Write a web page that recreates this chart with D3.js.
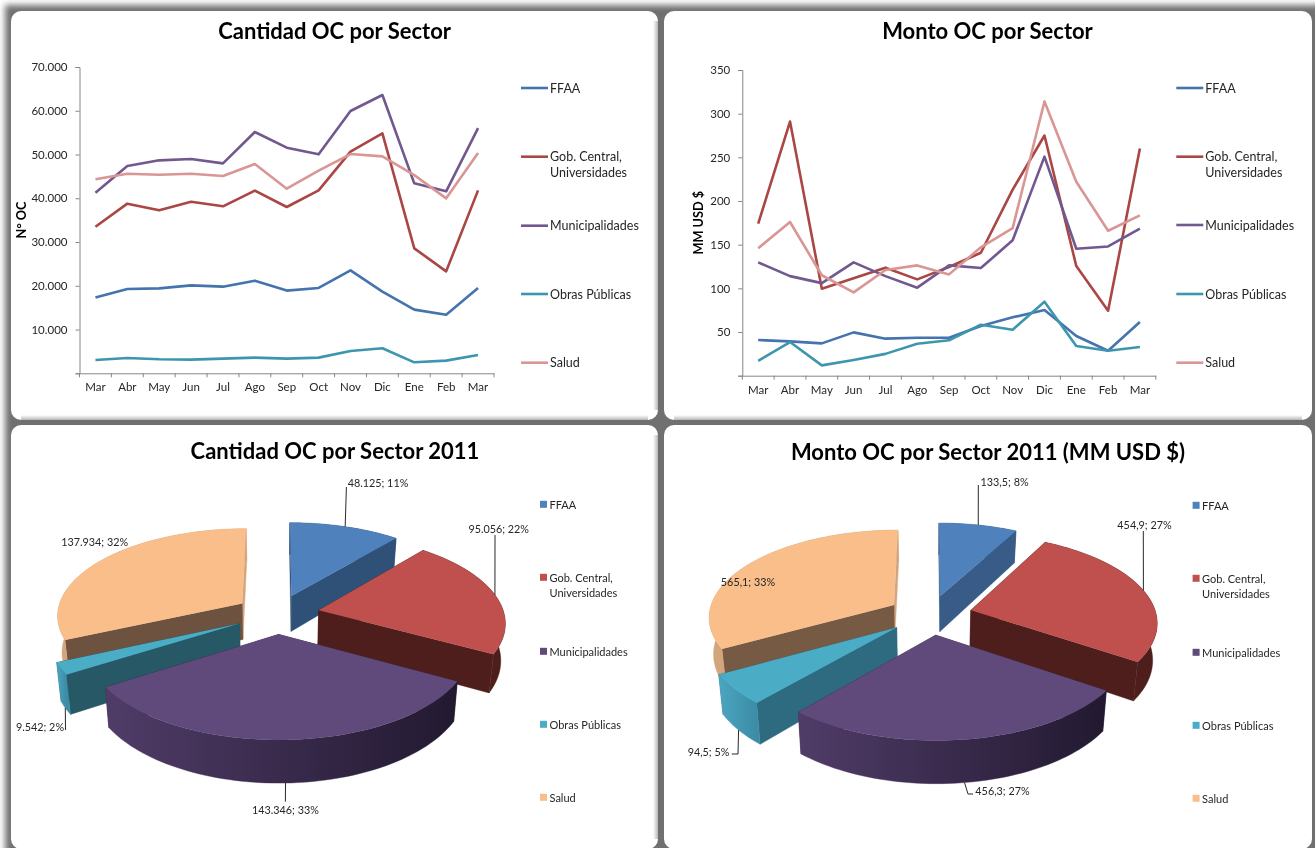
<!DOCTYPE html>
<html><head><meta charset="utf-8">
<script src="https://cdn.jsdelivr.net/npm/d3@7"></script>
<style>
html,body{margin:0;padding:0;background:#fff;overflow:hidden}
svg{display:block;filter:blur(0.35px)}
text{font-family:Lato,"Open Sans",sans-serif;fill:#262626}
</style></head><body>
<svg id="c" width="1315" height="848"></svg>
<script>
const meses=["Mar","Abr","May","Jun","Jul","Ago","Sep","Oct","Nov","Dic","Ene","Feb","Mar"];
const sectores=["FFAA","Gob. Central,\nUniversidades","Municipalidades","Obras Públicas","Salud"];
const cantFFAA=[17300,19270,19400,20100,19800,21170,18900,19500,23530,18660,14550,13400,19500];
const cantGob=[33500,38770,37240,39220,38160,41740,38000,41800,50650,54840,28560,23300,41800];
const cantMuni=[41280,47370,48670,48970,47980,55140,51560,50040,59940,63600,43410,41580,56050];
const cantObras=[3050,3500,3200,3120,3350,3580,3350,3580,5100,5710,2510,2900,4190];
const cantSalud=[44330,45620,45390,45620,45090,47830,42190,46300,50110,49580,45300,39980,50340];
const montoFFAA=[40.8,39.3,37,49.6,42.4,43.5,43.5,57,66.8,75.2,45.4,28.6,61.5];
const montoGob=[174,291,99.6,111.5,123.7,110.3,124.4,140.8,213,275,125.6,74.4,260];
const montoMuni=[129.8,114,106,129.8,114,100.8,126.3,123.3,155,250.8,145.4,148,168.3];
const montoObras=[17,38.5,11.8,18,25,36.6,40.5,58.4,52.7,84.7,34,28.6,32.8];
const montoSalud=[146,176,115,95.4,121,126.3,116,147,169,314,222,166,183.6];
const pieCantidad=[48125,95056,143346,9542,137934];
const pctCantidad=[11,22,33,2,32];
const pieMonto=[133.5,454.9,456.3,94.5,565.1];
const pctMonto=[8,27,27,5,33];

const lineColors=["#4573AE","#AA4643","#71588F","#3D96AE","#D99694"];
const topColors=["#4F81BD","#C0504D","#604A7B","#4BACC6","#F9BE8A"];
const locale=d3.formatLocale({decimal:",",thousands:".",grouping:[3],currency:["$",""]});
const svg=d3.select("#c");
const defs=svg.append("defs");
defs.append("filter").attr("id","sh").attr("x","-5%").attr("y","-5%").attr("width","110%").attr("height","110%")
  .append("feGaussianBlur").attr("stdDeviation",3.2);
const mkGrad=(id,x2,y2)=>{const g=defs.append("linearGradient").attr("id",id).attr("x1",0).attr("y1",0).attr("x2",x2).attr("y2",y2);
  g.append("stop").attr("offset",0).attr("stop-color","#888").attr("stop-opacity",0);
  g.append("stop").attr("offset",1).attr("stop-color","#777").attr("stop-opacity",.55);};
mkGrad("fadeR",1,0);mkGrad("fadeB",0,1);

// frame
svg.append("rect").attr("x",5).attr("y",5).attr("width",1320).attr("height",860).attr("fill","#6f6f6f").attr("filter","url(#sh)");
const panels=[[11,11,647,409],[664,11,648,409],[11,425,647,424],[664,425,648,424]];
svg.selectAll("rect.p").data(panels).join("rect").attr("class","p")
  .attr("x",d=>d[0]).attr("y",d=>d[1]).attr("width",d=>d[2]).attr("height",d=>d[3]).attr("rx",10).attr("fill","#fff");
[[653,21,5,389],[653,435,5,404]].forEach(r=>svg.append("rect").attr("x",r[0]).attr("y",r[1]).attr("width",r[2]).attr("height",r[3]).attr("fill","url(#fadeR)"));
[[21,415,627,5],[674,415,628,5]].forEach(r=>svg.append("rect").attr("x",r[0]).attr("y",r[1]).attr("width",r[2]).attr("height",r[3]).attr("fill","url(#fadeB)"));

function title(t,x,y){svg.append("text").attr("x",x).attr("y",y).attr("text-anchor","middle").attr("dominant-baseline","central")
  .attr("font-weight",700).attr("font-size",22).style("fill","#000").text(t);}

function lineChart(o){
  const x=d3.scaleBand().domain(d3.range(meses.length)).range([o.x0,o.x1]).paddingInner(0).paddingOuter(0);
  const y=d3.scaleLinear().domain([0,o.max]).range([o.y0,o.y1]);
  const g=svg.append("g");
  const fmt=o.fmt;
  g.append("g").attr("transform",`translate(${o.x0},0)`)
    .call(d3.axisLeft(y).tickValues(d3.range(0,o.max+1,o.step)).tickSize(4).tickPadding(8).tickFormat(d=>d===0?"":fmt(d)));
  const ax=g.append("g").attr("transform",`translate(0,${o.y0})`)
    .call(d3.axisBottom(x).tickSize(0).tickPadding(10).tickFormat(i=>meses[i]));
  ax.selectAll(".tick").append("line").attr("x1",x.step()/2).attr("x2",x.step()/2).attr("y1",0).attr("y2",4);
  ax.select(".tick").append("line").attr("x1",-x.step()/2).attr("x2",-x.step()/2).attr("y1",0).attr("y2",4);
  g.selectAll(".domain,.tick line").attr("stroke","#868686").attr("stroke-width",1);
  g.selectAll(".tick text").attr("font-size",11.5).style("font-family","Lato").style("fill","#262626");
  const line=d3.line().x((d,i)=>x(i)+x.bandwidth()/2).y(d=>y(d));
  g.selectAll("path.s").data(o.series).join("path").attr("class","s").attr("fill","none")
    .attr("stroke",(d,i)=>lineColors[i]).attr("stroke-width",2.6).attr("stroke-linejoin","round").attr("d",line);
  g.append("text").attr("transform",`translate(${o.labX},${o.labY}) rotate(-90)`).attr("text-anchor","middle").attr("dominant-baseline","central")
    .attr("font-weight",700).attr("font-size",12.7).style("fill","#000").text(o.ylab);
  sectores.forEach((s,i)=>{
    const ly=o.legY[i];
    g.append("line").attr("x1",o.legX).attr("x2",o.legX+27).attr("y1",ly).attr("y2",ly).attr("stroke",lineColors[i]).attr("stroke-width",2.6);
    s.split("\n").forEach((t,k)=>g.append("text").attr("x",o.legX+29).attr("y",ly+k*16).attr("dominant-baseline","central").attr("font-size",12.5).text(t));
  });
}

const RX=185.5,RY=86.7,K=0.126,E=0.228,D=36.5,BS=0.98;
function pieChart(o){
  const g=svg.append("g");
  const arcs=d3.pie().sort(null)(o.values);
  const project=(a,m,r,bottom)=>{
    const u=E*Math.sin(m)+r*Math.sin(a), v=-E*Math.cos(m)-r*Math.cos(a);
    const s=1/(1-K*v);
    return [o.cx+RX*u*s*(bottom?BS:1), o.cy+RY*v*s+(bottom?D*s:0)];
  };
  const path=d3.line();
  const order=[0,4,1,3,2];
  order.forEach(i=>{
    const d=arcs[i], m=(d.startAngle+d.endAngle)/2;
    const n=Math.max(4,Math.ceil((d.endAngle-d.startAngle)/0.03));
    const angs=d3.range(n+1).map(j=>d.startAngle+(d.endAngle-d.startAngle)*j/n);
    const top=angs.map(a=>project(a,m,1,false)), bot=angs.map(a=>project(a,m,1,true));
    const at=project(0,m,0,false), ab=project(0,m,0,true);
    const w=g.append("g");
    const wall=o.walls[i];
    let fill=o.outer[i];
    const hiddenEnd=Array.isArray(fill)?fill[0]:fill;
    w.append("path").attr("fill",i===4?hiddenEnd:wall).attr("stroke",i===4?hiddenEnd:wall).attr("stroke-width",.4).attr("d",path([at,top[n],bot[n],ab])+"Z");
    w.append("path").attr("fill",wall).attr("stroke",wall).attr("stroke-width",.4).attr("d",path([at,top[0],bot[0],ab])+"Z");
    if(Array.isArray(fill)){
      const id="gr"+o.id+i;
      const xs=top.map(p=>p[0]);
      const gr=defs.append("linearGradient").attr("id",id).attr("gradientUnits","userSpaceOnUse")
        .attr("x1",d3.min(xs)).attr("x2",d3.max(xs)).attr("y1",0).attr("y2",0);
      gr.append("stop").attr("offset",0).attr("stop-color",fill[0]);
      gr.append("stop").attr("offset",1).attr("stop-color",fill[1]);
      fill=`url(#${id})`;
    }
    w.append("path").attr("fill",fill).attr("stroke",fill).attr("stroke-width",.4).attr("d",path(top.concat(bot.slice().reverse()))+"Z");
    w.append("path").attr("fill",topColors[i]).attr("d",path([at].concat(top))+"Z");
  });
  arcs.forEach((d,i)=>{
    const m=(d.startAngle+d.endAngle)/2, L=o.labels[i];
    if(L.via){
      const st=project(m,m,1,L.bottom);
      g.append("path").attr("fill","none").attr("stroke","#111").attr("stroke-width",0.9)
        .attr("d",path([st].concat(L.via)));
    }
    g.append("text").attr("x",L.x).attr("y",L.y).attr("text-anchor","middle").attr("dominant-baseline","central").attr("font-size",10.8)
      .text(o.fmt(o.values[i])+"; "+o.pct[i]+"%");
  });
  sectores.forEach((s,i)=>{
    const ly=o.legY[i];
    g.append("rect").attr("x",o.legX).attr("y",ly-3.5).attr("width",7).attr("height",7).attr("fill",topColors[i]);
    s.split("\n").forEach((t,k)=>g.append("text").attr("x",o.legX+9.5).attr("y",ly+k*15).attr("dominant-baseline","central").attr("font-size",11).text(t));
  });
}

title("Cantidad OC por Sector",334.6,30.5);
title("Monto OC por Sector",987.5,30.5);
title("Cantidad OC por Sector 2011",335,450.5);
title("Monto OC por Sector 2011 (MM USD $)",988,451.5);

lineChart({x0:79.5,x1:494,y0:373.3,y1:67,max:70000,step:10000,fmt:locale.format(",d"),
  series:[cantFFAA,cantGob,cantMuni,cantObras,cantSalud],ylab:"N° OC",labX:21,labY:220,
  legX:521,legY:[88,156.7,225.7,294,362.7]});
lineChart({x0:742.3,x1:1155.8,y0:375.7,y1:70,max:350,step:50,fmt:d3.format("d"),
  series:[montoFFAA,montoGob,montoMuni,montoObras,montoSalud],ylab:"MM USD $",labX:697.6,labY:222.7,
  legX:1176.3,legY:[88,156.7,225,294,362.7]});

pieChart({id:"a",values:pieCantidad,pct:pctCantidad,cx:277.3,cy:614,fmt:locale.format(",d"),
  walls:["#2F5178","#4E1E1D","#3A2C4D","#265866","#6E5240"],
  outer:["#2F5178","#4E1E1D",["#503C68","#221930"],["#4BA6C0","#3C8CA6"],"#D3A57C"],
  legX:540,legY:[504.3,577.3,651.3,724.3,797.3],
  labels:[
   {x:378,y:482.3,via:[[346.4,487]]},
   {x:498.7,y:528.3,via:[[495,535]]},
   {x:285.4,y:809.3,bottom:true,via:[[285.4,801.7]]},
   {x:40,y:726.3,bottom:true,via:[[65.5,730]]},
   {x:94.7,y:541}
  ]});
pieChart({id:"b",values:pieMonto,pct:pctMonto,cx:930,cy:614.8,fmt:locale.format(",.1f"),
  walls:["#385B88","#4E1E1D","#3A2C4D","#2E6B80","#775A43"],
  outer:["#385B88","#4E1E1D",["#503C68","#221930"],["#4BA6C0","#3C8CA6"],"#D3A57C"],
  legX:1192.6,legY:[505.3,578.3,652.3,725.3,798.3],
  labels:[
   {x:1004.6,y:481.7,via:[[978.3,485]]},
   {x:1144.5,y:524.3,via:[[1143.3,531]]},
   {x:1002.5,y:790.7,bottom:true,via:[[968,794],[973,794]]},
   {x:708.5,y:751.7,bottom:true,via:[[738,754],[731.8,754]]},
   {x:748,y:581}
  ]});
</script></body></html>
